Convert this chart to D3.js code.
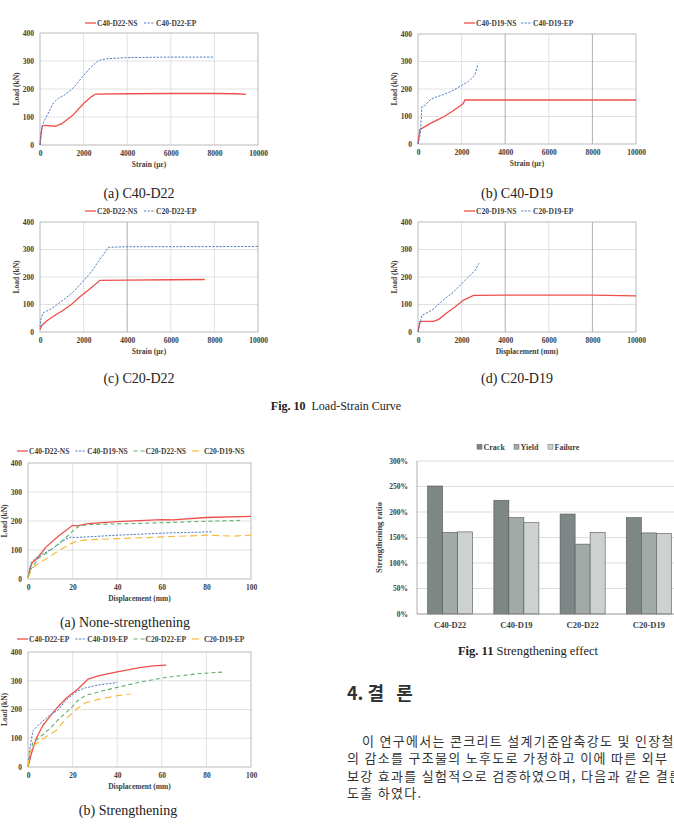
<!DOCTYPE html>
<html>
<head>
<meta charset="utf-8">
<script src="https://cdnjs.cloudflare.com/ajax/libs/d3/7.8.5/d3.min.js"></script>
<style>
  body { margin: 0; background: #fff; }
  svg { display: block; }
  .tick-lbl { font-family: "Liberation Serif", "Times New Roman", serif; font-weight: bold; font-size: 7.5px; fill: #404040; }
  .legend-lbl { font-family: "Liberation Serif", "Times New Roman", serif; font-weight: bold; font-size: 7.5px; fill: #404040; }
  .caption { font-family: "Liberation Serif", "Times New Roman", serif; font-size: 14px; fill: #222; }
  .fig { font-family: "Liberation Serif", "Times New Roman", serif; font-size: 12px; fill: #222; }
  .kr { font-family: "Noto Sans CJK KR", sans-serif; fill: #333; }
</style>
</head>
<body>
<script>
// ---- data ----

// Fig. 10 axes
var strainTicks = [0, 2000, 4000, 6000, 8000, 10000];
var loadTicks = [0, 100, 200, 300, 400];
var dispTicks = [0, 20, 40, 60, 80, 100];

// (a) C40-D22  [strain, load]
var c40d22NS = [[0,0],[50,40],[100,68],[250,70],[700,67],[1000,76],[1500,106],[2000,148],[2350,172],[2550,182],[4000,183],[6000,184],[8000,184],[9000,183],[9450,181]];
var c40d22EP = [[0,0],[60,49],[150,79],[380,114],[610,150],[840,166],[1150,180],[1530,204],[1910,240],[2300,275],[2680,302],[3060,308],[3980,312],[6000,314],[8000,314]];
// (b) C40-D19
var c40d19NS = [[0,0],[80,51],[180,57],[340,64],[570,75],[870,87],[1180,99],[1560,118],[1940,139],[2080,148],[2150,160],[4000,160],[8000,160],[10000,160]];
var c40d19EP = [[0,0],[110,39],[180,136],[340,142],[570,162],[800,170],[1180,180],[1560,193],[1940,210],[2320,228],[2600,250],[2700,275],[2750,292]];
// (c) C20-D22
var c20d22NS = [[0,9],[80,24],[305,40],[690,61],[1070,79],[1450,101],[1830,128],[2210,152],[2750,188],[4000,189],[6000,190],[7560,191]];
var c20d22EP = [[0,18],[45,49],[150,70],[460,82],[760,98],[1150,122],[1530,146],[1980,185],[2370,220],[2670,256],[2900,280],[3130,308],[4000,310],[10000,311]];
// (d) C20-D19
var c20d19NS = [[0,0],[80,37],[180,39],[720,39],[950,46],[1330,70],[1710,92],[2090,116],[2550,133],[4000,134],[8000,134],[10000,131]];
var c20d19EP = [[0,0],[110,37],[180,61],[410,70],[640,80],[950,101],[1250,122],[1640,146],[2020,177],[2400,207],[2630,226],[2800,250]];

// Load-displacement, none-strengthening  [mm, kN]
var nsC40D22 = [[0,5],[1,40],[2,58],[4,70],[8,110],[14,150],[20,185],[22,183],[27,191],[40,198],[60,205],[65,204],[80,212],[100,216]];
var nsC40D19 = [[0,5],[1.5,58],[3.7,74],[6.7,86],[11,105],[17,138],[19.5,145],[21,143],[40,151],[60,158],[83,163]];
var nsC20D22 = [[0,7],[1,30],[3,52],[5,74],[8,88],[12.7,115],[18,150],[20,165],[23,183],[28,188],[40,190],[60,194],[80,199],[95,202]];
var nsC20D19 = [[0,5],[1.5,30],[3,46],[6.7,63],[12.7,92],[18.7,120],[21.7,130],[26,135],[40,139],[60,145],[80,151],[92,148],[100,151]];

// Load-displacement, strengthening
var epC40D22 = [[0,0],[1.5,46],[3.7,99],[6.7,145],[12,197],[17,238],[22.5,272],[27,306],[32,318],[40,331],[50,346],[56,352],[62,354]];
var epC40D19 = [[0,0],[0.7,58],[2.2,126],[5.2,150],[9.7,180],[13.5,198],[17,232],[22,264],[26,276],[32,286],[40,294]];
var epC20D22 = [[0,0],[0.7,35],[2.2,85],[5.2,103],[9.7,133],[14,168],[19,203],[22.5,232],[26,250],[32,262],[40,277],[50,295],[62,312],[77,325],[87,330]];
var epC20D19 = [[0,0],[0.7,46],[2.2,72],[6.7,98],[12.7,128],[17,167],[22,203],[26,224],[32,236],[40,248],[46,254]];

// Fig. 11 strengthening ratio (1 = 100%)
var specimens = ["C40-D22", "C40-D19", "C20-D22", "C20-D19"];
var stages = ["Crack", "Yield", "Failure"];
var crackRatio = [2.51, 2.23, 1.96, 1.89];
var yieldRatio = [1.60, 1.89, 1.37, 1.59];
var failureRatio = [1.61, 1.79, 1.60, 1.58];
var ratioTicks = [0, 0.5, 1, 1.5, 2, 2.5, 3];

// ---- drawing ----
var W = 674, H = 828;
var svg = d3.select("body").append("svg")
    .attr("width", W)
    .attr("height", H)
    .style("overflow", "hidden");

svg.append("rect").attr("width", W).attr("height", H).attr("fill", "#fff");

var RED = "#ee4f4b", BLUE = "#4d7fc0", GREEN = "#5cae6c", ORANGE = "#f7b93c";
var styles = {
    NS: { color: RED, dash: null, width: 1.3 },
    EP: { color: BLUE, dash: "2.2,1.4", width: 1 },
    blue: { color: BLUE, dash: "2.2,1.4", width: 1 },
    green: { color: GREEN, dash: "4,3", width: 1.1 },
    orange: { color: ORANGE, dash: "7,4", width: 1.2 }
};

//draw one line chart panel
function lineChart(cfg){
    var g = svg.append("g");

    var x = d3.scaleLinear().domain(cfg.xDomain).range([cfg.left, cfg.right]);
    var y = d3.scaleLinear().domain([0, 400]).range([cfg.bottom, cfg.top]);

    //horizontal grid
    g.selectAll(".hgrid").data(loadTicks).enter().append("line")
        .attr("x1", cfg.left).attr("x2", cfg.right)
        .attr("y1", function(d){ return y(d); }).attr("y2", function(d){ return y(d); })
        .attr("stroke", "#d9d9d9").attr("stroke-width", 0.8);

    //vertical grid, a couple drawn darker like the scan
    g.selectAll(".vgrid").data(cfg.xTicks).enter().append("line")
        .attr("x1", function(d){ return x(d); }).attr("x2", function(d){ return x(d); })
        .attr("y1", cfg.top).attr("y2", cfg.bottom)
        .attr("stroke", function(d){ return (cfg.dark || []).indexOf(d) >= 0 ? "#9a9a9a" : "#d9d9d9"; })
        .attr("stroke-width", 0.8);

    //plot frame
    g.append("rect")
        .attr("x", cfg.left).attr("y", cfg.top)
        .attr("width", cfg.right - cfg.left).attr("height", cfg.bottom - cfg.top)
        .attr("fill", "none").attr("stroke", "#bfbfbf").attr("stroke-width", 0.8);

    //axes, labels only
    var xAxis = d3.axisBottom(x).tickValues(cfg.xTicks).tickSize(0).tickPadding(6).tickFormat(d3.format("d"));
    g.append("g").attr("transform", "translate(0," + cfg.bottom + ")").call(xAxis)
        .call(function(a){ a.select(".domain").remove(); })
        .selectAll("text").attr("class", "tick-lbl").attr("font-size", null).attr("font-family", null);

    var yAxis = d3.axisLeft(y).tickValues(loadTicks).tickSize(0).tickPadding(6);
    g.append("g").attr("transform", "translate(" + cfg.left + ",0)").call(yAxis)
        .call(function(a){ a.select(".domain").remove(); })
        .selectAll("text").attr("class", "tick-lbl").attr("font-size", null).attr("font-family", null);

    g.append("text")
        .attr("class", "tick-lbl")
        .attr("x", (cfg.left + cfg.right) / 2)
        .attr("y", cfg.bottom + 22)
        .attr("text-anchor", "middle")
        .text(cfg.xTitle);

    g.append("text")
        .attr("class", "tick-lbl")
        .attr("transform", "translate(" + (cfg.left - 21) + "," + ((cfg.top + cfg.bottom) / 2) + ") rotate(-90)")
        .attr("text-anchor", "middle")
        .text("Load (kN)");

    //curves
    var line = d3.line()
        .x(function(d){ return x(d[0]); })
        .y(function(d){ return y(d[1]); });

    g.selectAll(".curve").data(cfg.series).enter().append("path")
        .attr("d", function(s){ return line(s.values); })
        .attr("fill", "none")
        .attr("stroke", function(s){ return styles[s.style].color; })
        .attr("stroke-width", function(s){ return styles[s.style].width; })
        .attr("stroke-dasharray", function(s){ return styles[s.style].dash; });

    //legend
    var leg = g.selectAll(".leg").data(cfg.series).enter().append("g")
        .attr("transform", function(s, i){ return "translate(" + (cfg.legX + i * cfg.legStep) + "," + cfg.legY + ")"; });
    leg.append("line")
        .attr("x1", 0).attr("x2", 11).attr("y1", 0).attr("y2", 0)
        .attr("stroke", function(s){ return styles[s.style].color; })
        .attr("stroke-width", function(s){ return styles[s.style].width; })
        .attr("stroke-dasharray", function(s){ return styles[s.style].dash; });
    leg.append("text")
        .attr("class", "legend-lbl")
        .attr("x", 12).attr("y", 2.6)
        .text(function(s){ return s.name; });

    //caption
    svg.append("text")
        .attr("class", "caption")
        .attr("x", cfg.capX).attr("y", cfg.capY)
        .attr("text-anchor", "middle")
        .text(cfg.caption);
}

lineChart({ left: 40, right: 258, top: 33, bottom: 145, xDomain: [0, 10000], xTicks: strainTicks,
    xTitle: "Strain (με)", legX: 85, legY: 23, legStep: 59, capX: 139, capY: 198, caption: "(a) C40-D22",
    series: [{ name: "C40-D22-NS", style: "NS", values: c40d22NS }, { name: "C40-D22-EP", style: "EP", values: c40d22EP }] });

lineChart({ left: 418, right: 636, top: 34, bottom: 144, xDomain: [0, 10000], xTicks: strainTicks, dark: [4000, 8000],
    xTitle: "Strain (με)", legX: 464, legY: 23, legStep: 57, capX: 517, capY: 198, caption: "(b) C40-D19",
    series: [{ name: "C40-D19-NS", style: "NS", values: c40d19NS }, { name: "C40-D19-EP", style: "EP", values: c40d19EP }] });

lineChart({ left: 40, right: 258, top: 222, bottom: 332, xDomain: [0, 10000], xTicks: strainTicks, dark: [4000],
    xTitle: "Strain (με)", legX: 85, legY: 211, legStep: 59, capX: 139, capY: 383, caption: "(c) C20-D22",
    series: [{ name: "C20-D22-NS", style: "NS", values: c20d22NS }, { name: "C20-D22-EP", style: "EP", values: c20d22EP }] });

lineChart({ left: 418, right: 636, top: 222, bottom: 332, xDomain: [0, 10000], xTicks: strainTicks, dark: [4000, 8000],
    xTitle: "Displacement (mm)", legX: 464, legY: 211, legStep: 57, capX: 517, capY: 383, caption: "(d) C20-D19",
    series: [{ name: "C20-D19-NS", style: "NS", values: c20d19NS }, { name: "C20-D19-EP", style: "EP", values: c20d19EP }] });

lineChart({ left: 28, right: 251, top: 463, bottom: 579, xDomain: [0, 100], xTicks: dispTicks,
    xTitle: "Displacement (mm)", legX: 17, legY: 451, legStep: 58.3, capX: 125, capY: 627, caption: "(a) None-strengthening",
    series: [{ name: "C40-D22-NS", style: "NS", values: nsC40D22 }, { name: "C40-D19-NS", style: "blue", values: nsC40D19 },
             { name: "C20-D22-NS", style: "green", values: nsC20D22 }, { name: "C20-D19-NS", style: "orange", values: nsC20D19 }] });

lineChart({ left: 28, right: 251, top: 652, bottom: 767, xDomain: [0, 100], xTicks: dispTicks,
    xTitle: "Displacement (mm)", legX: 17, legY: 639, legStep: 58.3, capX: 128, capY: 815, caption: "(b) Strengthening",
    series: [{ name: "C40-D22-EP", style: "NS", values: epC40D22 }, { name: "C40-D19-EP", style: "blue", values: epC40D19 },
             { name: "C20-D22-EP", style: "green", values: epC20D22 }, { name: "C20-D19-EP", style: "orange", values: epC20D19 }] });

//figure caption for Fig. 10
var fig10 = svg.append("text").attr("class", "fig").attr("x", 336).attr("y", 410).attr("text-anchor", "middle");
fig10.append("tspan").attr("font-weight", "bold").text("Fig. 10");
fig10.append("tspan").text("\u00a0 Load-Strain Curve");

//---- Fig. 11 grouped bar chart ----
function barChart(){
    var left = 417, top = 461, bottom = 614, right = 682;
    var g = svg.append("g");

    var x0 = d3.scaleBand().domain(specimens).range([left, right]).paddingInner(0.32).paddingOuter(0.16);
    var x1 = d3.scaleBand().domain(stages).range([0, x0.bandwidth()]);
    var y = d3.scaleLinear().domain([0, 3]).range([bottom, top]);
    var fills = d3.scaleOrdinal().domain(stages).range(["#7d8785", "#a2aaa8", "#cdd2d0"]);

    var rows = specimens.map(function(s, i){
        return { name: s, values: [crackRatio[i], yieldRatio[i], failureRatio[i]] };
    });

    g.selectAll(".grid").data(ratioTicks.slice(1)).enter().append("line")
        .attr("x1", left).attr("x2", right)
        .attr("y1", function(d){ return y(d); }).attr("y2", function(d){ return y(d); })
        .attr("stroke", "#d4d4d4").attr("stroke-width", 0.8);

    g.append("line").attr("x1", left).attr("x2", left).attr("y1", top).attr("y2", bottom)
        .attr("stroke", "#9a9a9a").attr("stroke-width", 0.8);

    var groups = g.selectAll(".grp").data(rows).enter().append("g")
        .attr("transform", function(d){ return "translate(" + x0(d.name) + ",0)"; });
    groups.selectAll("rect").data(function(d){ return d.values.map(function(v, i){ return { stage: stages[i], v: v }; }); })
        .enter().append("rect")
        .attr("x", function(d){ return x1(d.stage); })
        .attr("width", x1.bandwidth())
        .attr("y", function(d){ return y(d.v); })
        .attr("height", function(d){ return bottom - y(d.v); })
        .attr("fill", function(d){ return fills(d.stage); })
        .attr("stroke", "#555").attr("stroke-width", 0.6);

    g.append("line").attr("x1", left).attr("x2", right).attr("y1", bottom).attr("y2", bottom)
        .attr("stroke", "#8a8a8a").attr("stroke-width", 0.9);

    var yAxis = d3.axisLeft(y).tickValues(ratioTicks).tickSize(0).tickPadding(9).tickFormat(d3.format(".0%"));
    g.append("g").attr("transform", "translate(" + left + ",0)").call(yAxis)
        .call(function(a){ a.select(".domain").remove(); })
        .selectAll("text").attr("class", "tick-lbl").attr("font-size", "8px").attr("font-family", null);

    g.selectAll(".cat").data(specimens).enter().append("text")
        .attr("class", "tick-lbl").style("font-size", "8.5px")
        .attr("x", function(d){ return x0(d) + x0.bandwidth() / 2; })
        .attr("y", bottom + 14)
        .attr("text-anchor", "middle")
        .text(function(d){ return d; });

    g.append("text")
        .attr("class", "tick-lbl").style("font-size", "8.5px")
        .attr("transform", "translate(382," + ((top + bottom) / 2) + ") rotate(-90)")
        .attr("text-anchor", "middle")
        .text("Strengthening ratio");

    //legend
    var legX = [477, 514, 548];
    var leg = g.selectAll(".leg").data(stages).enter().append("g")
        .attr("transform", function(d, i){ return "translate(" + legX[i] + ",447)"; });
    leg.append("rect").attr("x", 0).attr("y", -2.8).attr("width", 5).attr("height", 5)
        .attr("fill", function(d){ return fills(d); }).attr("stroke", "#666").attr("stroke-width", 0.5);
    leg.append("text").attr("class", "legend-lbl").style("font-size", "8px")
        .attr("x", 6.5).attr("y", 2.8).text(function(d){ return d; });

    var fig11 = svg.append("text").attr("class", "fig").style("font-size", "12.5px")
        .attr("x", 528).attr("y", 655).attr("text-anchor", "middle");
    fig11.append("tspan").attr("font-weight", "bold").text("Fig. 11");
    fig11.append("tspan").text(" Strengthening effect");
}
barChart();

//---- body text (conclusion section) ----
svg.append("text").attr("class", "kr")
    .attr("x", 347).attr("y", 700)
    .attr("font-size", "18px").attr("font-weight", "bold")
    .text("4. 결\u00a0\u00a0\u00a0론");

// page text runs past the right edge in the scan, so lines are clipped there too
var paraLines = [
    "이 연구에서는 콘크리트 설계기준압축강도 및 인장철근",
    "의 감소를 구조물의 노후도로 가정하고 이에 따른 외부",
    "보강 효과를 실험적으로 검증하였으며, 다음과 같은 결론을",
    "도출 하였다."
];
svg.selectAll(".para").data(paraLines).enter().append("text")
    .attr("class", "kr")
    .attr("font-size", "13px")
    .attr("letter-spacing", "1.3px")
    .attr("x", function(d, i){ return i === 0 ? 362 : 347; })
    .attr("y", function(d, i){ return 746 + i * 17.3; })
    .text(function(d){ return d; });
</script>
</body>
</html>
